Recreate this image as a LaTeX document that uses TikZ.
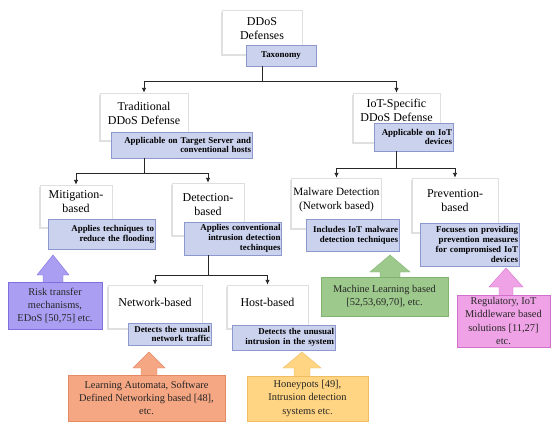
\documentclass[tikz,border=0pt]{standalone}
\usepackage{fontspec}
\setmainfont{Liberation Serif}
\usetikzlibrary{positioning,arrows.meta,shadows,calc}

\definecolor{tagfill}{RGB}{203,210,237}
\definecolor{tagline}{RGB}{140,152,206}
\definecolor{riskfill}{RGB}{170,158,242}
\definecolor{riskline}{RGB}{128,110,222}
\definecolor{mlfill}{RGB}{157,201,140}
\definecolor{mlline}{RGB}{128,178,112}
\definecolor{regfill}{RGB}{239,162,229}
\definecolor{regline}{RGB}{212,112,202}
\definecolor{lafill}{RGB}{245,166,131}
\definecolor{laline}{RGB}{228,138,100}
\definecolor{hpfill}{RGB}{255,212,130}
\definecolor{hpline}{RGB}{240,188,98}

\begin{document}
\begin{tikzpicture}[
    x=1pt, y=-1pt,
    box/.style={draw=gray!25, fill=white, align=center, inner sep=2pt, text depth=9pt,
        font=\fontsize{12}{14}\selectfont,
        drop shadow={shadow xshift=-1.5pt, shadow yshift=-2pt, opacity=0.35, fill=gray!70}},
    tag/.style={draw=tagline, fill=tagfill, align=right, inner xsep=1pt, inner ysep=1pt,
        font=\bfseries\fontsize{8.9}{9.8}\selectfont},
    note/.style={align=center, inner sep=2pt, text=black!85,
        font=\fontsize{10.4}{13.3}\selectfont},
    conn/.style={draw=black!85, line width=0.9pt, -{Latex[length=5pt,width=4.5pt]}}
]
\useasboundingbox (0,0) rectangle (552,423);

% Tree boxes
\node[box, minimum width=80, minimum height=44, text depth=6pt] (root) at (262,32) {DDoS\\Defenses};
\node[tag, align=center, text width=68, minimum height=21] (tax) at (281,55.5) {Taxonomy};

\node[box, minimum width=88, minimum height=47, text depth=7pt] (trad) at (144,116.5) {Traditional\\DDoS Defense};
\node[tag, text width=139, minimum height=26] (tradlab) at (181.5,145) {Applicable on Target Server and\\conventional hosts};

\node[box, minimum width=87, minimum height=49, text depth=14pt] (iot) at (396.5,117.5) {IoT-Specific\\DDoS Defense};
\node[tag, text width=77, minimum height=28] (iotlab) at (413.5,137) {Applicable on IoT\\devices};

\node[box, minimum width=72, minimum height=42] (mit) at (76,206) {Mitigation-\\based};
\node[tag, text width=105, minimum height=30] (mitlab) at (101.5,234) {Applies techniques to\\reduce the flooding};

\node[box, minimum width=72, minimum height=52] (det) at (208,209) {Detection-\\based};
\node[tag, text width=95, minimum height=33] (detlab) at (233,238.5) {Applies conventional\\intrusion detection\\techinques};

\node[box, minimum width=87, minimum height=50, font=\fontsize{11.2}{14}\selectfont] (mal) at (336.5,203) {Malware Detection\\(Network based)};
\node[tag, text width=91, minimum height=32] (mallab) at (352.5,235) {Includes IoT malware\\detection techniques};

\node[box, minimum width=86, minimum height=54] (prev) at (455,205) {Prevention-\\based};
\node[tag, text width=97, minimum height=43] (prevlab) at (469.5,244.5) {Focuses on providing\\prevention measures\\for compromised IoT\\devices};

\node[box, minimum width=94, minimum height=43] (net) at (155,306.5) {Network-based};
\node[tag, text width=81, minimum height=22] (netlab) at (169.5,334) {Detects the unusual\\network traffic};

\node[box, minimum width=81, minimum height=43] (host) at (267.5,306.5) {Host-based};
\node[tag, text width=101, minimum height=25] (hostlab) at (283.5,337.5) {Detects the unusual\\intrusion in the system};

% Connectors
\draw[conn] (tax.south -| root.south) -- ++(0,15) -| (trad.north);
\draw[conn] (tax.south -| root.south) -- ++(0,15) -| (iot.north);
\draw[conn] (tradlab.south -| trad.south) -- ++(0,15) -| (mit.north);
\draw[conn] (tradlab.south -| trad.south) -- ++(0,15) -| (det.north);
\draw[conn] (iotlab.south -| iot.south) -- ++(0,17) -| (mal.north);
\draw[conn] (iotlab.south -| iot.south) -- ++(0,17) -| (prev.north);
\draw[conn] (detlab.south -| det.south) -- ++(0,20) -| (net.north);
\draw[conn] (detlab.south -| det.south) -- ++(0,20) -| (host.north);

% Callouts with up arrows
\node[note, draw=riskline, fill=riskfill, minimum width=94, minimum height=47] (risk) at (55,305.5) {Risk transfer\\mechanisms,\\EDoS [50,75] etc.};
\coordinate (risktip) at (53,255);
\filldraw[draw=riskline, fill=riskfill] ($(risktip |- risk.north)+(-10,0)$) -- ($(risktip)+(-10,20)$) -- ($(risktip)+(-16,20)$)
    -- (risktip) -- ($(risktip)+(16,20)$) -- ($(risktip)+(10,20)$) -- ($(risktip |- risk.north)+(10,0)$);

\node[note, draw=mlline, fill=mlfill, minimum width=127, minimum height=39] (ml) at (384.5,296.5) {Machine Learning based\\{}[52,53,69,70], etc.};
\coordinate (mltip) at (390,255);
\filldraw[draw=mlline, fill=mlfill] ($(mltip |- ml.north)+(-10,0)$) -- ($(mltip)+(-10,17)$) -- ($(mltip)+(-20,17)$)
    -- (mltip) -- ($(mltip)+(20,17)$) -- ($(mltip)+(10,17)$) -- ($(mltip |- ml.north)+(10,0)$);

\node[note, draw=regline, fill=regfill, minimum width=93, minimum height=52] (reg) at (503.5,321) {Regulatory, IoT\\Middleware based\\solutions [11,27]\\etc.};
\coordinate (regtip) at (506,268);
\filldraw[draw=regline, fill=regfill] ($(regtip |- reg.north)+(-7,0)$) -- ($(regtip)+(-7,19)$) -- ($(regtip)+(-17,19)$)
    -- (regtip) -- ($(regtip)+(17,19)$) -- ($(regtip)+(7,19)$) -- ($(regtip |- reg.north)+(7,0)$);

\node[note, draw=laline, fill=lafill, minimum width=157, minimum height=46] (la) at (146.5,398) {Learning Automata, Software\\Defined Networking based [48],\\etc.};
\coordinate (latip) at (149,352);
\filldraw[draw=laline, fill=lafill] ($(latip |- la.north)+(-8,0)$) -- ($(latip)+(-8,16)$) -- ($(latip)+(-16,16)$)
    -- (latip) -- ($(latip)+(16,16)$) -- ($(latip)+(8,16)$) -- ($(latip |- la.north)+(8,0)$);

\node[note, draw=hpline, fill=hpfill, minimum width=121, minimum height=45] (hp) at (307.5,398.5) {Honeypots [49],\\Intrusion detection\\systems etc.};
\coordinate (hptip) at (302,352);
\filldraw[draw=hpline, fill=hpfill] ($(hptip |- hp.north)+(-8,0)$) -- ($(hptip)+(-8,16)$) -- ($(hptip)+(-19,16)$)
    -- (hptip) -- ($(hptip)+(19,16)$) -- ($(hptip)+(8,16)$) -- ($(hptip |- hp.north)+(8,0)$);

\end{tikzpicture}
\end{document}
